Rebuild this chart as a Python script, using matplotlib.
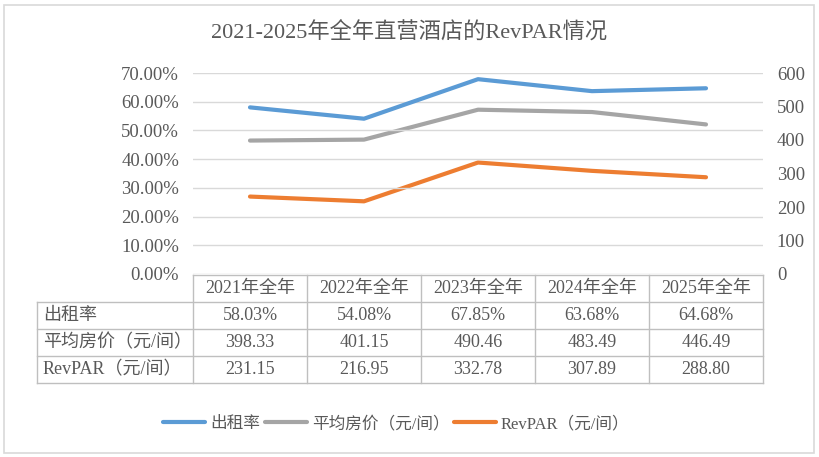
import matplotlib
matplotlib.use('Agg')
import matplotlib.pyplot as plt
from matplotlib.patches import Rectangle

plt.rcParams['font.family'] = ['Liberation Serif', 'Noto Sans CJK SC', 'DejaVu Sans']
plt.rcParams['font.weight'] = 'light'

# 数据
years = ['2021年全年', '2022年全年', '2023年全年', '2024年全年', '2025年全年']
occ = [58.03, 54.08, 67.85, 63.68, 64.68]          # 出租率 %
adr = [398.33, 401.15, 490.46, 483.49, 446.49]     # 平均房价（元/间）
revpar = [231.15, 216.95, 332.78, 307.89, 288.80]  # RevPAR（元/间）
names = ['出租率', '平均房价（元/间）', 'RevPAR（元/间）']
left_ticks = [0, 10, 20, 30, 40, 50, 60, 70]
right_ticks = [0, 100, 200, 300, 400, 500, 600]

blue = '#5B9BD5'
grey = '#A5A5A5'
orange = '#ED7D31'
txt = '#595959'
grid_c = '#D9D9D9'

W, H = 819, 457
fig = plt.figure(figsize=(W / 100, H / 100), dpi=100)
fig.patches.append(Rectangle((4 / W, 4 / H), 1 - 9 / W, 1 - 9 / H, transform=fig.transFigure,
                             fill=False, edgecolor=grid_c, linewidth=1.2))

fig.text(0.5, 1 - 33 / H, '2021-2025年全年直营酒店的RevPAR情况', ha='center', va='center',
         fontsize=16, color=txt)

# 主图区
ax = fig.add_axes([193 / W, 1 - 274 / H, 570 / W, 201 / H])
ax2 = ax.twinx()
x = range(len(years))
l1, = ax.plot(x, occ, color=blue, lw=3, solid_capstyle='round', zorder=3)
l2, = ax2.plot(x, adr, color=grey, lw=3, solid_capstyle='round')
l3, = ax2.plot(x, revpar, color=orange, lw=3, solid_capstyle='round')

ax.set_xlim(-0.5, len(years) - 0.5)
ax.set_ylim(0, 70)
ax2.set_ylim(0, 600)
ax.set_yticks(left_ticks)
ax.set_yticklabels([f'{v:.2f}%' for v in left_ticks])
ax2.set_yticks(right_ticks)
ax2.set_yticklabels([str(v) for v in right_ticks])
ax.set_xticks([])
ax.grid(axis='y', color=grid_c, lw=1)
ax.set_axisbelow(True)
for a in (ax, ax2):
    for s in a.spines.values():
        s.set_visible(False)
    a.tick_params(axis='y', length=0, labelsize=13.5, colors=txt, pad=10)
ax.set_zorder(ax2.get_zorder() + 1)
ax.patch.set_visible(False)

# 数据表
tab = fig.add_axes([37 / W, 1 - 383 / H, 726 / W, 108 / H])
lab_w = 156 / 114
tab.set_xlim(-0.5 - lab_w, len(years) - 0.5)
tab.set_ylim(4, 0)
tab.axis('off')
bc = '#BFBFBF'
kw = dict(color=bc, lw=1, clip_on=False)
tab.plot([-0.5, len(years) - 0.5], [0, 0], **kw)
for r in range(1, 5):
    tab.plot([-0.5 - lab_w, len(years) - 0.5], [r, r], **kw)
tab.plot([-0.5 - lab_w, -0.5 - lab_w], [1, 4], **kw)
for c in range(len(years) + 1):
    tab.plot([c - 0.5, c - 0.5], [0, 4], **kw)

for i, y in enumerate(years):
    tab.text(i, 0.5, y, ha='center', va='center', fontsize=13, color=txt)
rows = [[f'{v:.2f}%' for v in occ], [f'{v:.2f}' for v in adr], [f'{v:.2f}' for v in revpar]]
for r, (name, vals) in enumerate(zip(names, rows)):
    tab.text(-0.5 - lab_w + 0.05, r + 1.5, name, ha='left', va='center', fontsize=13, color=txt)
    for i, v in enumerate(vals):
        tab.text(i, r + 1.5, v, ha='center', va='center', fontsize=13, color=txt)

leg = fig.legend([l1, l2, l3], names, loc='center', bbox_to_anchor=(0.5 - 13 / W, 1 - 424 / H),
                 ncol=3, frameon=False, fontsize=12, handlelength=2.5, handletextpad=0.3,
                 columnspacing=0.3, labelcolor=txt)

fig.savefig('out.png', dpi=100)
